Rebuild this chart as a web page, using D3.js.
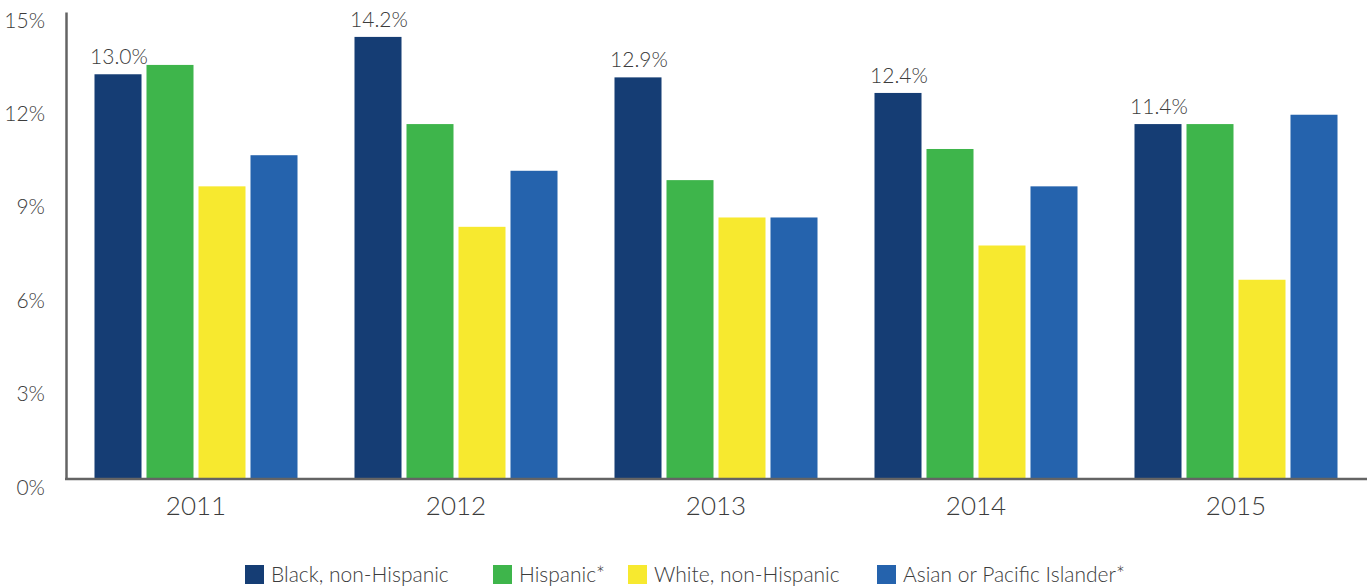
<!DOCTYPE html>
<html>
<head>
<meta charset="utf-8">
<script src="https://cdn.jsdelivr.net/npm/d3@7"></script>
<style>
  html, body { margin: 0; padding: 0; background: #fff; }
  svg { display: block; font-family: "Lato", "Open Sans", sans-serif; font-weight: 300; }
</style>
</head>
<body>
<svg id="chart" width="1367" height="587"></svg>
<script>
// Share of each group by year (percent)
const years = ["2011", "2012", "2013", "2014", "2015"];
const seriesNames = ["Black, non-Hispanic", "Hispanic*", "White, non-Hispanic", "Asian or Pacific Islander*"];
const black    = [13.0, 14.2, 12.9, 12.4, 11.4];
const hispanic = [13.3, 11.4, 9.6, 10.6, 11.4];
const white    = [9.4, 8.1, 8.4, 7.5, 6.4];
const asian    = [10.4, 9.9, 8.4, 9.4, 11.7];
const yTicks   = [0, 3, 6, 9, 12, 15];
const colors   = ["#153d74", "#3eb54b", "#f7e92f", "#2563ad"];

const seriesValues = [black, hispanic, white, asian];
const rows = years.map((yr, i) => ({
  year: yr,
  values: seriesNames.map((s, j) => ({ series: s, value: seriesValues[j][i], idx: j }))
}));

const svg = d3.select("#chart");
const axisColor = "#646464";
const textColor = "#3c3c3c";

const x0 = d3.scaleBand().domain(years).range([66, 1366]).paddingInner(0).paddingOuter(0);
const x1 = d3.scaleBand().domain(seriesNames).range([0, x0.bandwidth()])
  .paddingInner(0.096).paddingOuter(0.548);
const y = d3.scaleLinear().domain([0, 15]).range([479, 12]);

// Bars
const groups = svg.append("g").selectAll("g").data(rows).join("g")
  .attr("transform", d => `translate(${x0(d.year)},0)`);

groups.selectAll("rect").data(d => d.values).join("rect")
  .attr("x", d => x1(d.series))
  .attr("width", x1.bandwidth())
  .attr("y", d => y(d.value))
  .attr("height", d => y(0) - y(d.value))
  .attr("fill", d => colors[d.idx]);

// Value labels on the first series
groups.append("text")
  .datum(d => d.values[0])
  .attr("x", d => x1(d.series) + x1.bandwidth() / 2 + 1)
  .attr("y", d => y(d.value) - 10)
  .attr("text-anchor", "middle")
  .attr("fill", textColor)
  .style("font-size", "21px")
  .text(d => d.value.toFixed(1) + "%");

// Y axis
const yAxis = svg.append("g")
  .attr("transform", "translate(66,0)")
  .call(d3.axisLeft(y).tickValues(yTicks).tickSize(0).tickSizeOuter(0).tickPadding(21)
    .tickFormat(d => d + "%"));
yAxis.select(".domain").attr("stroke", axisColor).attr("stroke-width", 2.5);
yAxis.selectAll("text")
  .attr("fill", textColor)
  .attr("dy", "0.72em")
  .style("font-size", "21px")
  .style("font-family", "Lato, sans-serif")
  .style("font-weight", 300);

// X axis
const xAxis = svg.append("g")
  .attr("transform", "translate(0,479)")
  .call(d3.axisBottom(x0).tickSize(0).tickSizeOuter(0).tickPadding(18));
xAxis.select(".domain").attr("stroke", axisColor).attr("stroke-width", 2.5)
  .attr("d", "M65,0H1367");
xAxis.selectAll("text")
  .attr("fill", textColor)
  .style("font-size", "26px")
  .style("font-family", "Lato, sans-serif")
  .style("font-weight", 300);

// Legend
const legendX = [245, 493, 628, 877];
const legend = svg.append("g").selectAll("g").data(seriesNames).join("g")
  .attr("transform", (d, i) => `translate(${legendX[i]},565)`);
legend.append("rect")
  .attr("width", 19).attr("height", 19)
  .attr("fill", (d, i) => colors[i]);
legend.append("text")
  .attr("x", 26).attr("y", 17)
  .attr("fill", textColor)
  .style("font-size", "21px")
  .text(d => d);
</script>
</body>
</html>
